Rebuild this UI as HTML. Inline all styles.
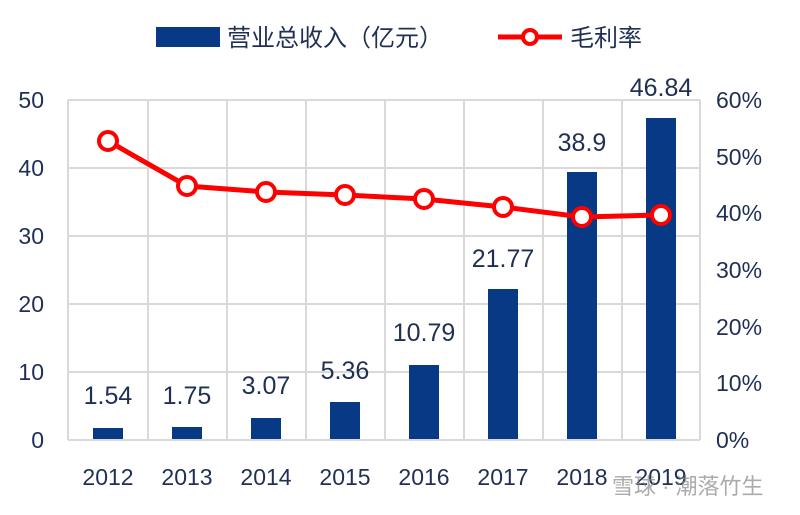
<!DOCTYPE html>
<html><head><meta charset="utf-8"><style>
html,body{margin:0;padding:0;background:#fff;}
text{font-family:"Liberation Sans","Noto Sans CJK SC",sans-serif;}
</style></head><body>
<svg width="800" height="510" viewBox="0 0 800 510" xmlns="http://www.w3.org/2000/svg">
<rect width="800" height="510" fill="#fff"/>
<rect x="156" y="27" width="64" height="20" fill="#073984"/>
<text x="227" y="46" font-size="24" fill="#1f2f55">营业总收入（亿元）</text>
<line x1="498" y1="37" x2="562" y2="37" stroke="#f00" stroke-width="5"/>
<circle cx="530" cy="37" r="7" fill="#fff" stroke="#f00" stroke-width="4"/>
<text x="570" y="46" font-size="24" fill="#1f2f55">毛利率</text>
<g stroke="#d9d9d9" stroke-width="2">
<line x1="68" y1="100" x2="700" y2="100"/>
<line x1="68" y1="168" x2="700" y2="168"/>
<line x1="68" y1="236" x2="700" y2="236"/>
<line x1="68" y1="304" x2="700" y2="304"/>
<line x1="68" y1="372" x2="700" y2="372"/>
<line x1="68" y1="100" x2="68" y2="440"/>
<line x1="148" y1="100" x2="148" y2="440"/>
<line x1="227" y1="100" x2="227" y2="440"/>
<line x1="306" y1="100" x2="306" y2="440"/>
<line x1="385" y1="100" x2="385" y2="440"/>
<line x1="464" y1="100" x2="464" y2="440"/>
<line x1="543" y1="100" x2="543" y2="440"/>
<line x1="622" y1="100" x2="622" y2="440"/>
<line x1="700" y1="100" x2="700" y2="440"/>
</g>
<g fill="#073984">
<rect x="93" y="428" width="30" height="12"/>
<rect x="172" y="427" width="30" height="13"/>
<rect x="251" y="418" width="30" height="22"/>
<rect x="330" y="402" width="30" height="38"/>
<rect x="409" y="365" width="30" height="75"/>
<rect x="488" y="289" width="30" height="151"/>
<rect x="567" y="172" width="30" height="268"/>
<rect x="646" y="118" width="30" height="322"/>
</g>
<line x1="68" y1="440" x2="700" y2="440" stroke="#d9d9d9" stroke-width="2"/>
<g font-size="25" fill="#1f2f55" text-anchor="middle">
<text x="108" y="404">1.54</text>
<text x="187" y="404">1.75</text>
<text x="266" y="394">3.07</text>
<text x="345" y="379">5.36</text>
<text x="424" y="341">10.79</text>
<text x="503" y="267">21.77</text>
<text x="582" y="151">38.9</text>
<text x="661" y="96">46.84</text>
</g>
<polyline points="108,141 187,186 266,192 345,195 424,199 503,207 582,217 661,215" fill="none" stroke="#f00" stroke-width="5"/>
<g fill="#fff" stroke="#f00" stroke-width="4">
<circle cx="108" cy="141" r="9"/><circle cx="187" cy="186" r="9"/><circle cx="266" cy="192" r="9"/><circle cx="345" cy="195" r="9"/><circle cx="424" cy="199" r="9"/><circle cx="503" cy="207" r="9"/><circle cx="582" cy="217" r="9"/><circle cx="661" cy="215" r="9"/>
</g>
<g font-size="23" fill="#1f2f55" text-anchor="end">
<text x="44" y="108">50</text><text x="44" y="176">40</text><text x="44" y="244">30</text><text x="44" y="312">20</text><text x="44" y="380">10</text><text x="44" y="448">0</text>
</g>
<g font-size="23" fill="#1f2f55" text-anchor="start">
<text x="716" y="108">60%</text><text x="716" y="165">50%</text><text x="716" y="221">40%</text><text x="716" y="278">30%</text><text x="716" y="335">20%</text><text x="716" y="391">10%</text><text x="716" y="448">0%</text>
</g>
<g font-size="23" fill="#1f2f55" text-anchor="middle">
<text x="108" y="485">2012</text><text x="187" y="485">2013</text><text x="266" y="485">2014</text><text x="345" y="485">2015</text><text x="424" y="485">2016</text><text x="503" y="485">2017</text><text x="582" y="485">2018</text><text x="661" y="485">2019</text>
</g>
<text x="612" y="494" font-size="22" fill="#888" fill-opacity="0.7">雪球 · 潮落竹生</text>
</svg>
</body></html>
